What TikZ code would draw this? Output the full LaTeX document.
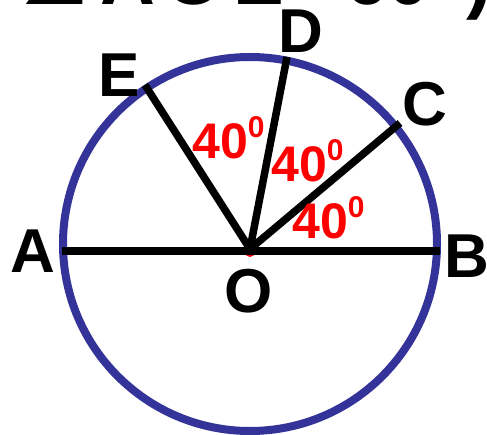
\documentclass[tikz,border=0pt]{standalone}
\usepackage{fontspec}
\setmainfont{Liberation Sans}
\newfontfamily\symfont{DejaVu Sans}
\definecolor{circblue}{RGB}{51,51,153}
\definecolor{angred}{RGB}{255,0,0}
\tikzset{
  lbl/.style={font=\fontsize{62}{62}\selectfont\bfseries, inner sep=0pt, text=black},
  ttl/.style={font=\fontsize{76}{76}\selectfont\bfseries, inner sep=0pt, text=black, anchor=base west},
  ang/.style={font=\fontsize{50}{50}\selectfont\bfseries, inner sep=0pt, text=angred},
  spoke/.style={line width=7.5pt, black},
}
\begin{document}
\begin{tikzpicture}[x=1pt,y=-1pt]
\useasboundingbox (0,0) rectangle (487,435);
\clip (0,0) rectangle (487,435);
% title, cut off at the top
\node[ttl] (t1) at (20,5) {{\symfont ∠}};
\node[ttl] (t2) at (100,5) {A};
\node[ttl] (t3) at (164,5) {O};
\node[ttl] (t4) at (233,5) {E};
\node[ttl] (t5) at (345,5) {60};
\node[ttl] (t6) at (466,5) {)};
% circle
\coordinate (c) at (250,244);
\draw[circblue, line width=8pt] (c) circle [radius=187];
% points
\coordinate (O) at (250,249);
\coordinate (Ae) at (62,251);
\coordinate (Be) at (440,251);
\coordinate (Ce) at (400,123);
\coordinate (De) at (287,57);
\coordinate (Ee) at (145,85);
\fill[angred] (250,252) circle [radius=5];
\draw[spoke] (Ae) -- (Be);
\draw[spoke] (O) -- (Ce);
\draw[spoke] (O) -- (De);
\draw[spoke] (O) -- (Ee);
% labels
\node[lbl] (A) at (33,251) {A};
\node[lbl] (B) at (467,256) {B};
\node[lbl] (C) at (425,104) {C};
\node[lbl] (D) at (301,31) {D};
\node[lbl] (E) at (119,75) {E};
\node[lbl] (Ol) at (249,291) {O};
% angle labels
\node[ang, anchor=base west] (a1) at (192,159) {40\raisebox{0.42em}{\fontsize{30}{30}\selectfont 0}};
\node[ang, anchor=base west] (a2) at (271,182) {40\raisebox{0.42em}{\fontsize{30}{30}\selectfont 0}};
\node[ang, anchor=base west] (a3) at (292,239) {40\raisebox{0.42em}{\fontsize{30}{30}\selectfont 0}};
\end{tikzpicture}
\end{document}
